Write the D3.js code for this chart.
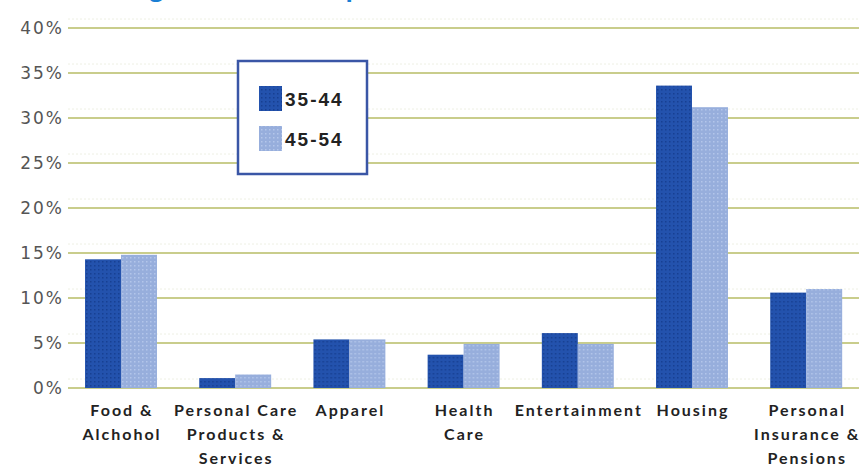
<!DOCTYPE html>
<html><head><meta charset="utf-8">
<script src="https://cdn.jsdelivr.net/npm/d3@7"></script>
<style>html,body{margin:0;padding:0;background:#fff;overflow:hidden}</style>
</head><body>
<script>
const categories = [
  ["Food &","Alchohol"],
  ["Personal Care","Products &","Services"],
  ["Apparel"],
  ["Health","Care"],
  ["Entertainment"],
  ["Housing"],
  ["Personal","Insurance &","Pensions"]
];
const seriesNames = ["35-44","45-54"];
const values3544 = [14.3, 1.1, 5.4, 3.7, 6.1, 33.6, 10.6];
const values4554 = [14.8, 1.5, 5.4, 4.9, 4.9, 31.2, 11.0];
const yTicks = [0,5,10,15,20,25,30,35,40];
const yTickLabels = ["0%","5%","10%","15%","20%","25%","30%","35%","40%"];
const titleText = "Average Household Expenditures";

const W = 859, H = 472;
const colors = ["#2352ad","#97aedc"];
const dotColors = ["#173f92","#b4c6ea"];

const svg = d3.select("body").append("svg").attr("width",W).attr("height",H);
const defs = svg.append("defs");
colors.forEach((c,i)=>{
  const p = defs.append("pattern").attr("id","pat"+i).attr("patternUnits","userSpaceOnUse")
    .attr("width",4).attr("height",4);
  p.append("rect").attr("width",4).attr("height",4).attr("fill",c);
  p.append("rect").attr("x",1).attr("y",1).attr("width",1.5).attr("height",1.5).attr("fill",dotColors[i]);
});

const keys = categories.map((c,i)=>"c"+i);
const y = d3.scaleLinear().domain([0,40]).range([388,28]);
const x0 = d3.scaleBand().domain(keys).range([67.9,859.3]).paddingInner(0.37).paddingOuter(0.15);
const x1 = d3.scaleBand().domain(seriesNames).range([0,x0.bandwidth()]);

// title (cut off at top, as in the reference)
svg.append("text").attr("x",80).attr("y",-4).attr("font-family","Open Sans, sans-serif")
  .attr("font-weight","bold").attr("font-size",24).attr("fill","#1a7fd4").text(titleText);

// gridlines
const grid = svg.append("g");
yTicks.forEach(t=>{
  grid.append("line").attr("x1",68).attr("x2",W).attr("y1",y(t)-9).attr("y2",y(t)-9)
    .attr("stroke","#eef0e4").attr("stroke-width",1).attr("stroke-dasharray","2,2");
  grid.append("line").attr("x1",68).attr("x2",W).attr("y1",y(t)).attr("y2",y(t))
    .attr("stroke","#c9cd8c").attr("stroke-width",2);
});

// y axis labels
const yAxis = d3.axisLeft(y).tickValues(yTicks).tickSize(0).tickPadding(0)
  .tickFormat((d,i)=>yTickLabels[i]);
const ya = svg.append("g").attr("transform","translate(64,0)").call(yAxis);
ya.select(".domain").remove();
ya.selectAll("text").attr("font-family","DejaVu Sans, sans-serif").attr("font-size",17)
  .attr("fill","#555").attr("letter-spacing","2px").attr("dy","0.35em");

// bars
const groups = svg.append("g").selectAll("g").data(keys).join("g")
  .attr("transform",k=>`translate(${x0(k)},0)`);
groups.selectAll("rect").data((k,i)=>[values3544[i],values4554[i]].map((v,j)=>({s:seriesNames[j],v,j})))
  .join("rect")
  .attr("x",d=>x1(d.s)).attr("width",x1.bandwidth())
  .attr("y",d=>y(d.v)).attr("height",d=>y(0)-y(d.v))
  .attr("fill",d=>`url(#pat${d.j})`);

// category labels
const xAxis = d3.axisBottom(x0).tickSize(0).tickFormat(()=> "");
const xa = svg.append("g").attr("transform","translate(0,388)").call(xAxis);
xa.select(".domain").remove();
keys.forEach((k,i)=>{
  const cx = x0(k)+x0.bandwidth()/2;
  const t = svg.append("text").attr("x",cx).attr("y",416)
    .attr("text-anchor","middle").attr("font-family","Lato, sans-serif").attr("font-weight","bold")
    .attr("font-size",16).attr("letter-spacing","2px").attr("fill","#222");
  categories[i].forEach((line,li)=>{
    t.append("tspan").attr("x",cx+1).attr("dy",li===0?0:24).text(line);
  });
});

// legend
const lg = svg.append("g");
lg.append("rect").attr("x",238).attr("y",61).attr("width",129).attr("height",113)
  .attr("fill","#fff").attr("stroke","#3a56a6").attr("stroke-width",2.5);
seriesNames.forEach((s,i)=>{
  const yy = 86 + i*40;
  lg.append("rect").attr("x",259).attr("y",yy).attr("width",23).attr("height",25).attr("fill",`url(#pat${i})`);
  lg.append("text").attr("x",285).attr("y",yy+13).attr("dy","0.35em")
    .attr("font-family","Liberation Sans, Arial, sans-serif").attr("font-weight","bold")
    .attr("font-size",19).attr("letter-spacing","2px").attr("fill","#222").text(s);
});
</script>
</body></html>
